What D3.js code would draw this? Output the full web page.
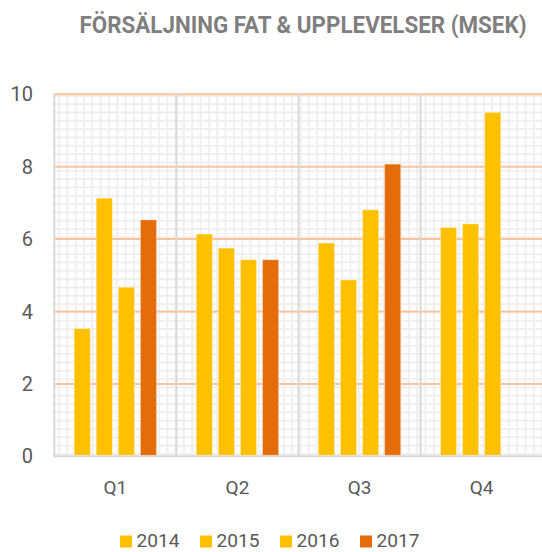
<!DOCTYPE html>
<html>
<head>
<meta charset="utf-8">
<script src="https://cdn.jsdelivr.net/npm/d3@7"></script>
<style>
  html, body { margin: 0; padding: 0; background: #ffffff; }
  svg { display: block; }
</style>
</head>
<body>
<script>
// ---- data ----
const categories = ["Q1", "Q2", "Q3", "Q4"];
const years = ["2014", "2015", "2016", "2017"];
const s2014 = [3.53, 6.14, 5.89, 6.32];
const s2015 = [7.13, 5.75, 4.87, 6.42];
const s2016 = [4.67, 5.43, 6.81, 9.5];
const s2017 = [6.53, 5.43, 8.07, null];
const yTicks = [0, 2, 4, 6, 8, 10];
const seriesColors = ["#FFC000", "#FFC000", "#FFC000", "#E46C0A"];
const chartTitle = "FÖRSÄLJNING FAT & UPPLEVELSER (MSEK)";

const seriesValues = [s2014, s2015, s2016, s2017];

(function () {
const W = 542, H = 552;
const pLeft = 54.3, pRight = 542.7, pTop = 94.3, pBottom = 456.3;
const FONT = "Roboto, 'DejaVu Sans', sans-serif";

const svg = d3.select("body").append("svg").attr("width", W).attr("height", H);

const x0 = d3.scaleBand().domain(categories).range([pLeft, pRight]);
const x1 = d3.scaleBand().domain(years).range([0, x0.bandwidth()])
  .paddingInner(0.27).paddingOuter(0.9);
const y = d3.scaleLinear().domain([0, 10]).range([pBottom, pTop]);
const color = d3.scaleOrdinal().domain(years).range(seriesColors);

// grid pattern background
const defs = svg.append("defs");
const P = 8.33;
const pat = defs.append("pattern").attr("id", "grid")
  .attr("patternUnits", "userSpaceOnUse")
  .attr("width", P).attr("height", P)
  .attr("x", 58).attr("y", pTop + 0.5);
pat.append("rect").attr("width", P).attr("height", P).attr("fill", "#ffffff");
pat.append("rect").attr("x", 0).attr("y", 0).attr("width", 2).attr("height", P).attr("fill", "#efefef");
pat.append("rect").attr("x", 0).attr("y", 0).attr("width", P).attr("height", 2).attr("fill", "#efefef");

svg.append("rect").attr("x", pLeft).attr("y", pTop).attr("width", pRight - pLeft).attr("height", pBottom - pTop)
  .attr("fill", "url(#grid)");

// major gridlines
svg.append("g").selectAll("line").data(yTicks.filter(d => d > 0)).join("line")
  .attr("x1", pLeft).attr("x2", pRight)
  .attr("y1", d => y(d)).attr("y2", d => y(d))
  .attr("stroke", "#F9C49C").attr("stroke-width", 2);

// category separators + left axis
svg.append("g").selectAll("line").data(categories).join("line")
  .attr("x1", d => x0(d)).attr("x2", d => x0(d))
  .attr("y1", pTop - 1).attr("y2", pBottom)
  .attr("stroke", "#d9d9d9").attr("stroke-width", 2);

// bottom axis line
svg.append("line").attr("x1", pLeft - 1).attr("x2", pRight).attr("y1", y(0)).attr("y2", y(0))
  .attr("stroke", "#d9d9d9").attr("stroke-width", 2);

// bars
const barData = [];
categories.forEach((c, ci) => {
  years.forEach((yr, si) => {
    const v = seriesValues[si][ci];
    if (v != null) barData.push({ c, yr, v });
  });
});
svg.append("g").selectAll("rect").data(barData).join("rect")
  .attr("x", d => x0(d.c) + x1(d.yr))
  .attr("width", x1.bandwidth())
  .attr("y", d => y(d.v))
  .attr("height", d => y(0) - y(d.v) - 1)
  .attr("fill", d => color(d.yr))
  .attr("stroke", "rgba(255,255,255,0.35)").attr("stroke-width", 1);

// y tick labels
svg.append("g").selectAll("text").data(yTicks).join("text")
  .attr("x", 33).attr("y", d => y(d)).attr("dy", "0.35em")
  .attr("text-anchor", "end")
  .attr("font-family", FONT).attr("font-size", 20).attr("fill", "#595959")
  .text(d => d);

// category labels
svg.append("g").selectAll("text").data(categories).join("text")
  .attr("x", d => x0(d) + x0.bandwidth() / 2).attr("y", 494)
  .attr("text-anchor", "middle")
  .attr("font-family", FONT).attr("font-size", 19).attr("fill", "#595959")
  .text(d => d);

// title
svg.append("text").attr("x", 303).attr("y", 32.5).attr("text-anchor", "middle")
  .attr("font-family", FONT).attr("font-weight", "bold").attr("font-size", 23)
  .attr("fill", "#7f7f7f")
  .attr("textLength", 447).attr("lengthAdjust", "spacingAndGlyphs")
  .text(chartTitle);

// legend
const lx = d3.scalePoint().domain(years).range([120, 360]);
const lg = svg.append("g").selectAll("g").data(years).join("g")
  .attr("transform", d => `translate(${lx(d)},0)`);
lg.append("rect").attr("x", 0).attr("y", 535.5).attr("width", 12).attr("height", 12)
  .attr("fill", d => color(d));
lg.append("text").attr("x", 16.5).attr("y", 546.5)
  .attr("font-family", FONT).attr("font-size", 19).attr("fill", "#595959")
  .attr("textLength", 43).attr("lengthAdjust", "spacingAndGlyphs")
  .text(d => d);
})();
</script>
</body>
</html>
